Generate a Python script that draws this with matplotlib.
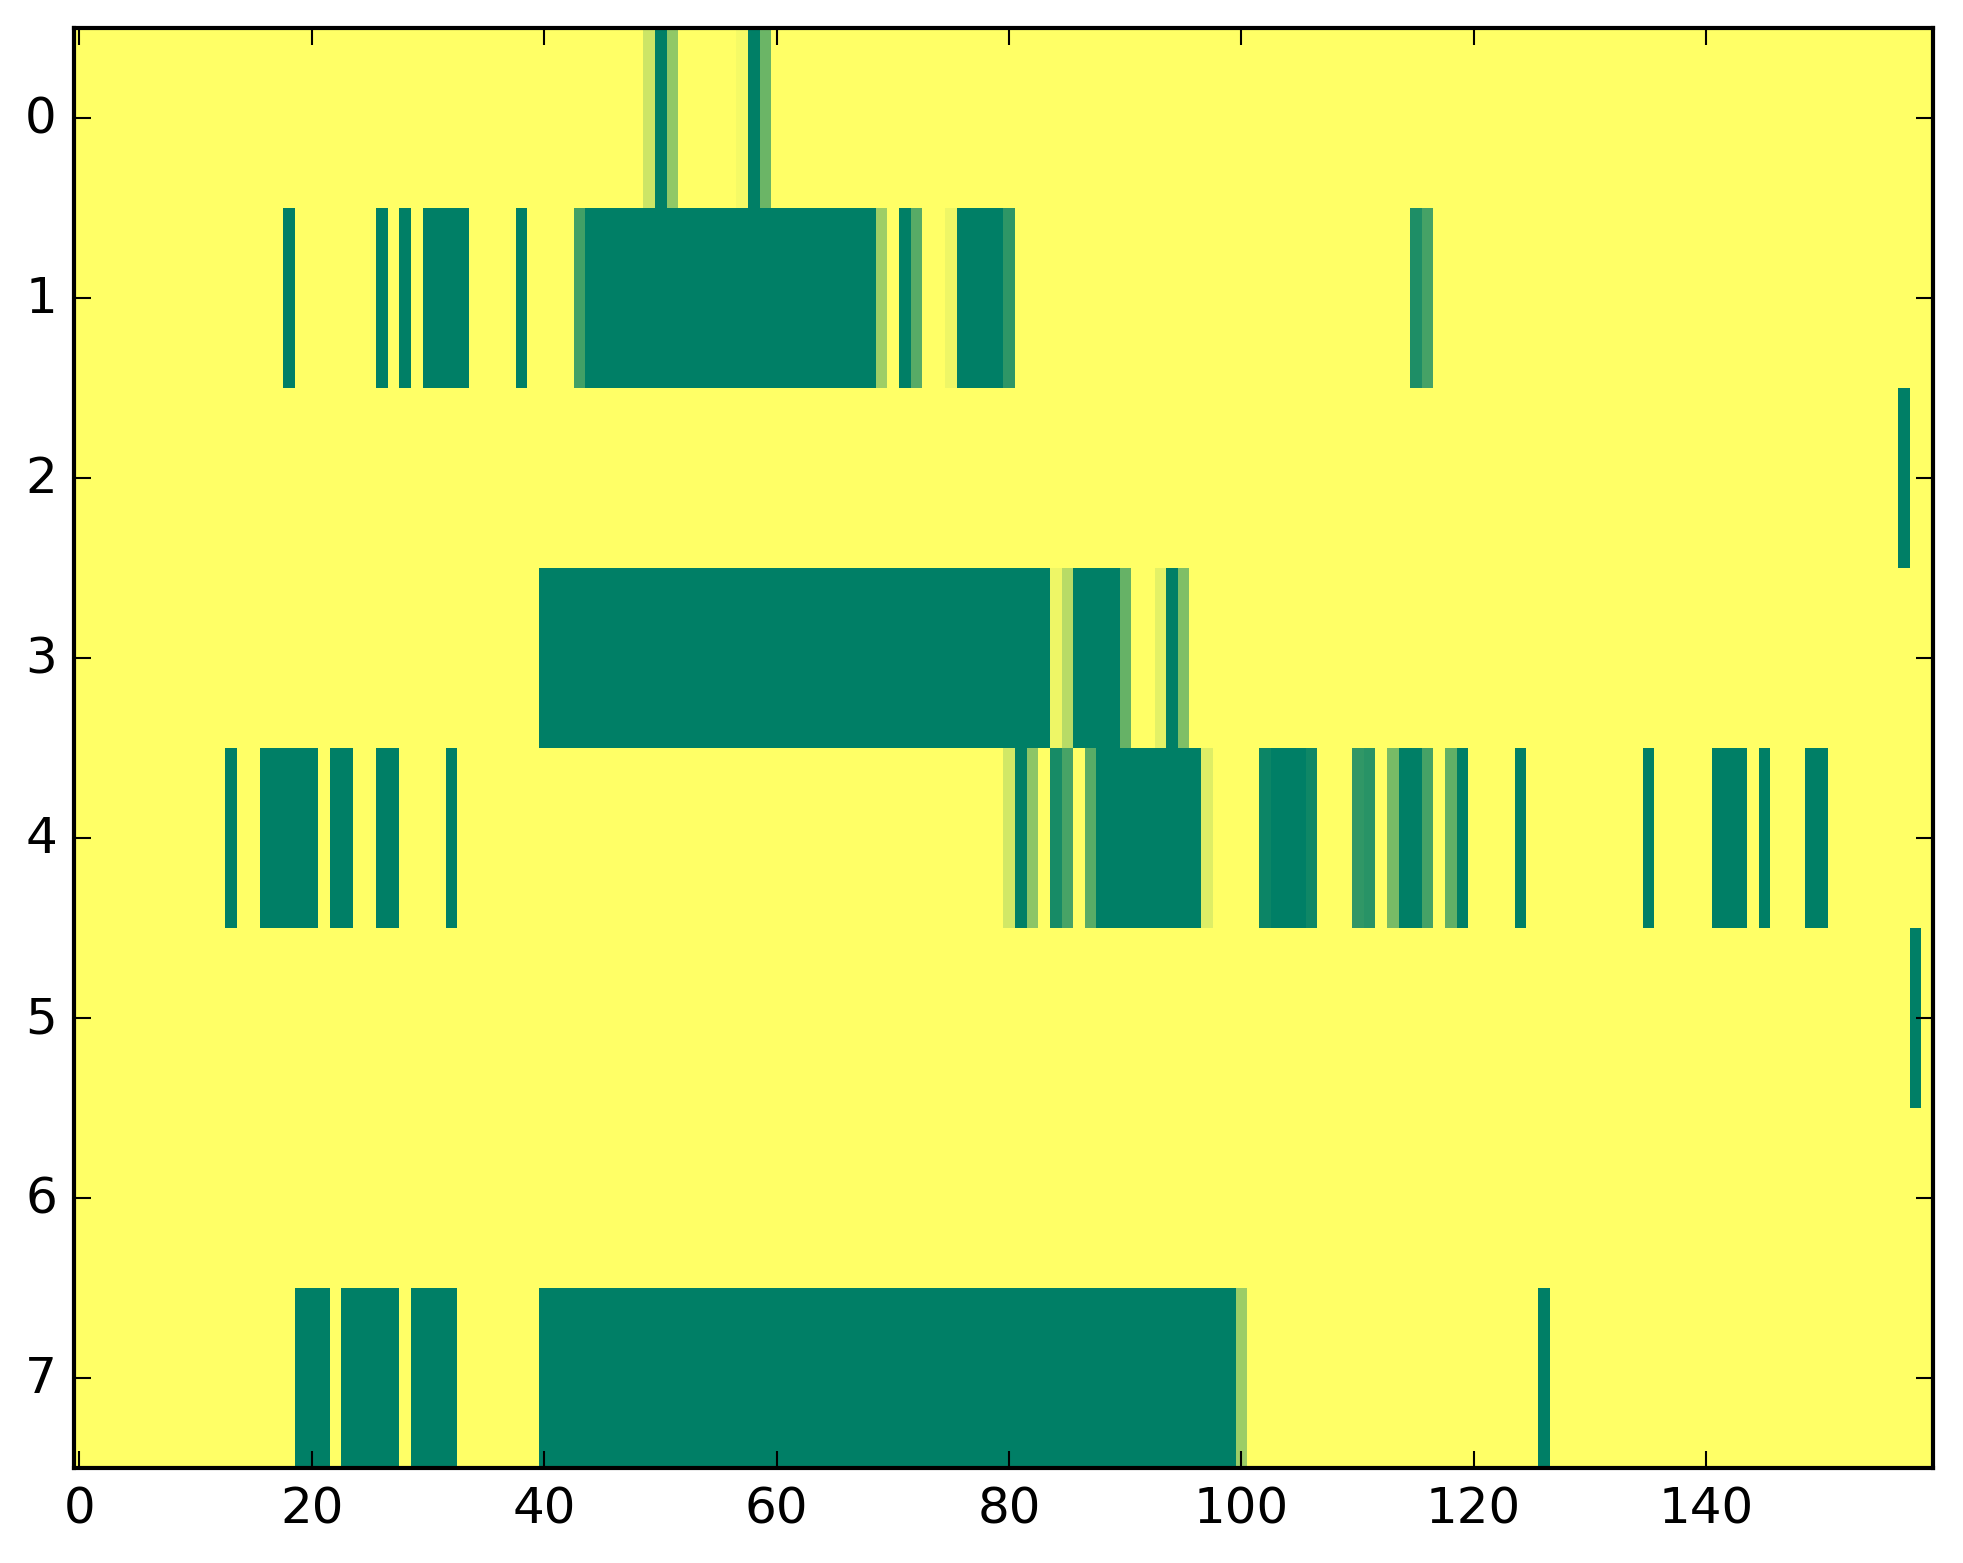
import numpy as np
import matplotlib
matplotlib.use('Agg')
import matplotlib.pyplot as plt

n_rows = 8
n_cols = 160

# runs of fully "on" cells (value 1) per row, inclusive (start, end)
row0_full = [(50, 50), (58, 58)]
row1_full = [(18, 18), (26, 26), (28, 28), (30, 33), (38, 38), (44, 68),
             (71, 71), (76, 79)]
row2_full = [(157, 157)]
row3_full = [(40, 83), (86, 89), (94, 94)]
row4_full = [(13, 13), (16, 20), (22, 23), (26, 27), (32, 32), (81, 81),
             (88, 96), (103, 105), (114, 115), (119, 119), (124, 124),
             (135, 135), (141, 143), (145, 145), (149, 150)]
row5_full = [(158, 158)]
row6_full = []
row7_full = [(19, 21), (23, 27), (29, 32), (40, 99), (126, 126)]

# single cells with an in-between value
row0_part = {49: 0.20, 51: 0.43, 57: 0.04, 59: 0.58}
row1_part = {43: 0.74, 69: 0.38, 72: 0.66, 75: 0.07, 80: 0.82,
             115: 0.88, 116: 0.73}
row2_part = {}
row3_part = {84: 0.07, 85: 0.28, 90: 0.60, 93: 0.11, 95: 0.50}
row4_part = {80: 0.18, 82: 0.45, 84: 0.91, 85: 0.72, 87: 0.65, 97: 0.13,
             102: 0.95, 106: 0.94, 110: 0.81, 111: 0.84, 113: 0.53,
             116: 0.73, 118: 0.62}
row5_part = {}
row6_part = {}
row7_part = {100: 0.39}

full_runs = [row0_full, row1_full, row2_full, row3_full,
             row4_full, row5_full, row6_full, row7_full]
partial = [row0_part, row1_part, row2_part, row3_part,
           row4_part, row5_part, row6_part, row7_part]

grid = np.zeros((n_rows, n_cols))
for r in range(n_rows):
    for a, b in full_runs[r]:
        grid[r, a:b + 1] = 1.0
    for c, v in partial[r].items():
        grid[r, c] = v

plt.style.use('classic')
fig = plt.figure(figsize=(1963 / 300., 1564 / 300.), dpi=300)
ax = fig.add_axes([0.0375, 0.0607, 0.947, 0.9207])
ax.imshow(grid, cmap='summer_r', vmin=0, vmax=1, aspect='auto',
          interpolation='nearest')
ax.set_xticks(np.arange(0, 141, 20))
ax.set_yticks(np.arange(0, 8))
ax.tick_params(labelsize=12)

fig.savefig('out.png', dpi=300)
